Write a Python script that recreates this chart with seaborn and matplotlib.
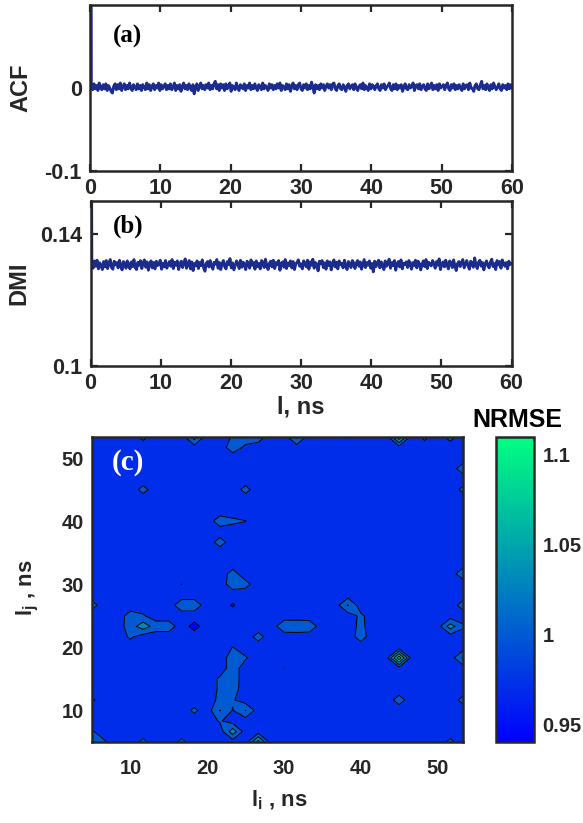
import numpy as np
import matplotlib
matplotlib.use("Agg")
import matplotlib.pyplot as plt
import seaborn as sns
from matplotlib.colors import Normalize
from matplotlib.cm import ScalarMappable

# ---------------- data ----------------
lag_max_ns = 60

# autocorrelation function: zero-lag value, then the tail in units of 1e-3
acf_zero_lag = 1.0
acf_tail_milli = [
    4, -2, 5, -1, 3, -3, 6, 0, -2, 4, -1, 5, -3, 3, 0, -4, -6, 2, 5, -2,
    4, -1, 6, -3, 2, 5, -2, 3, -1, 6, 0, -3, 4, 1, -2, 5, -1, 3, -3, 4,
    1, -2, 6, -1, 4, -3, 2, 5, -2, 3, 0, 6, -3, 4, -1, 2, 5, -2, 3, -1,
    5, -2, 1, 6, -3, 3, -1, 4, -4, 2, 6, -1, 3, -2, 5, 0, -3, 4, -7, 1,
    5, -3, 2, 6, -1, 3, -2, 4, 0, 6, -2, 3, -1, 5, 8, -1, 4, -3, 5, 0,
    4, -3, 5, -1, 2, 6, -4, 3, 1, -2, 6, 0, -3, 4, 2, -1, 5, -3, 3, 0,
    6, -2, 3, -1, 5, 0, -3, 4, 2, -2, 6, -1, 3, 1, -3, 5, 0, 4, -2, 3,
    -1, 5, 0, 6, -3, 3, 1, -2, 5, -1, 4, -4, 2, 6, -1, 3, -2, 4, 6, -1,
    -3, 4, 0, 5, -2, 3, -1, 7, 1, -6, 4, -1, 3, -2, 5, 0, 4, -3, 2, 5,
    0, 4, -2, 5, 6, -1, -3, 3, 5, -1, -2, 4, 1, -4, 3, 5, -1, 2, 4, -2,
    5, 0, -3, 2, 4, -1, 6, -2, 3, 0, -3, 5, -1, 4, 2, -2, 3, 5, -1, -3,
    4, 0, 5, -2, 1, 3, 6, -1, -3, 4, -1, 5, -2, 3, 0, 4, -4, 1, 5, -1,
    -2, 4, 0, 2, 6, -3, 3, 4, -1, 5, -2, 2, 4, -1, -3, 5, -1, 2, 6, -2,
    3, -1, 4, -3, 5, 0, 2, 4, -2, 3, 6, -1, -3, 4, 0, 5, -2, 3, -1, 4,
    0, -3, 5, -1, 3, 4, -2, 6, 0, -1, -4, 3, 5, -1, -2, 4, 8, -1, 3, -2,
    5, 0, -3, 4, -1, 6, 2, -2, 1, 5, -1, -3, 4, 0, 3, -2, 5, -1, 4, 0,
]

# DMI: zero-lag value, then the tail as offsets from the base in units of 1e-4
dmi_zero_lag = 0.25
dmi_base = 0.1297
dmi_tail_offset = [
    16, -2, 20, 4, 22, -4, 14, 6, -6, 18, 2, 21, -3, 12, 24, 0, -5, 19, 8, 15,
    -1, 22, 5, -7, 18, 13, -2, 20, 9, -4, 17, 3, 24, 0, -6, 16, 7, 21, -3, 14,
    23, 1, 17, -8, 12, 20, -1, 15, -4, 19, 6, 10, 22, -5, 13, 2, 21, -2, 8, 18,
    4, 24, -3, 16, 7, 20, -6, 11, 19, 0, 14, 26, -2, 9, 21, -4, 17, -9, 12, 5,
    20, -3, 15, 6, 23, -1, -11, 13, 18, 2, 21, 4, -5, 16, 10, 24, -2, 15, -6, 11,
    21, 3, -4, 18, 9, 27, -1, 14, -7, 6, 20, 12, -3, 22, 1, 16, 8, -6, 19, 10,
    -2, 23, 7, 15, -5, 20, 3, 12, -4, 21, 16, 0, 25, 5, -6, 13, 19, 2, 22, -3,
    15, 8, 21, -8, 12, 17, 1, 24, -3, 14, 6, 20, -1, 18, -6, 10, 16, 23, 4, 11,
    -4, 20, 13, 2, 22, -5, 17, 7, 25, -2, 15, 9, -10, 19, 11, 21, 0, 14, -5, 20,
    6, 17, -7, 12, 23, 2, 16, -4, 20, 8, 13, -1, 22, 5, -6, 18, 11, 0, 21, 14,
    -3, 13, 21, 4, 17, -5, 9, 24, 0, 15, 7, 20, -2, 12, -13, 19, 3, 14, 22, -1,
    17, 8, -6, 20, 4, 13, 25, -2, 15, 6, 21, -8, 11, 18, 2, 23, -4, 13, 9, 17,
    0, 21, 11, -5, 15, 6, 22, -1, 19, 12, -7, 9, 20, 3, 24, -3, 16, 10, 5, 21,
    13, -2, 18, 7, 26, -6, 11, 17, 2, 22, 8, -4, 20, 14, 0, 23, 5, -9, 12, 18,
    3, 15, 24, -1, 10, 21, 6, -5, 19, 12, 1, 29, 8, -3, 16, 22, 4, 15, -7, 11,
    20, 6, -1, 17, 25, 3, 12, -6, 21, 8, 18, -2, 23, 11, 4, 15, -4, 19, 9, 13,
]

# NRMSE over the (l_i, l_j) grid: a flat background plus individual cells
grid_start_ns = 5.0
grid_step_ns = 5.0 / 3.0
grid_size = 30
nrmse_background = 0.985
nrmse_cells = [
    # top row
    (4, 29, 1.0075), (8, 29, 1.045), (11, 29, 1.003), (12, 29, 1.015), (13, 29, 1.015),
    (11, 28, 1.015), (12, 28, 0.994), (16, 29, 1.0375), (20, 29, 1.0015),
    (24, 29, 1.0825), (26, 29, 1.0075), (28, 29, 1.0105),
    # right column
    (29, 26, 1.015), (29, 24, 1.0075), (29, 16, 1.018), (29, 13, 1.012),
    (28, 11, 1.045), (29, 11, 1.0045), (29, 8, 1.033), (29, 4, 1.009),
    # left column and bottom row
    (0, 13, 1.0105), (0, 4, 1.0045), (0, 0, 1.015), (1, 0, 1.003), (0, 1, 1.003),
    (4, 0, 1.0075), (7, 0, 1.0075), (13, 0, 1.075), (28, 0, 1.0075), (11, 1, 1.048),
    # interior
    (4, 24, 1.009), (12, 24, 1.009),
    (10, 21, 1.015), (11, 21, 1.006), (12, 21, 1.00075), (10, 19, 1.012),
    (7, 15, 1.0003), (11, 15, 1.015), (11, 16, 1.0105), (12, 15, 1.009),
    (7, 13, 1.018), (8, 13, 1.018), (11, 13, 0.967),
    (3, 11, 1.015), (3, 12, 1.012), (3, 10, 1.0045), (4, 11, 1.048), (4, 12, 1.003),
    (5, 11, 1.015), (6, 11, 1.015), (8, 11, 0.9595),
    (15, 11, 1.0195), (16, 11, 1.021), (17, 11, 1.018), (13, 10, 1.0105),
    (20, 13, 1.033), (21, 12, 1.006), (21, 11, 1.0075), (21, 10, 1.012),
    (11, 9, 1.00075), (11, 8, 1.015), (12, 8, 1.003), (11, 7, 1.015), (11, 6, 1.015),
    (10, 6, 1.0045), (11, 5, 1.012), (10, 5, 1.0045), (10, 4, 1.0075), (11, 4, 1.003),
    (10, 3, 1.0315), (11, 3, 0.9985), (10, 2, 1.003), (12, 3, 1.03075), (8, 3, 1.006),
    (15, 7, 1.00015), (24, 8, 1.11), (24, 4, 1.012),
]
nrmse_levels = [0.94, 0.97, 1.00, 1.03, 1.06, 1.09, 1.12]
nrmse_range = (0.94, 1.11)
cbar_ticks = [0.95, 1.0, 1.05, 1.1]
cbar_ticklabels = ["0.95", "1", "1.05", "1.1"]

# ---------------- style ----------------
sns.set_theme(style="ticks")
plt.rcParams["font.family"] = ["Liberation Sans", "DejaVu Sans"]
plt.rcParams["font.weight"] = "bold"
plt.rcParams["mathtext.fontset"] = "custom"
plt.rcParams["mathtext.rm"] = "Liberation Sans:bold"
plt.rcParams["mathtext.it"] = "Liberation Sans:bold"
plt.rcParams["mathtext.bf"] = "Liberation Sans:bold"

AX_COLOR = "#262626"
LINE_COLOR = "#1b2c8e"
W, H = 583, 823

fig = plt.figure(figsize=(W / 100, H / 100), dpi=100)


def box(l, t, r, b):
    return [l / W, 1 - b / H, (r - l) / W, (b - t) / H]


def style_axes(ax, size, xpad, ypad):
    for sp in ax.spines.values():
        sp.set_visible(True)
        sp.set_color(AX_COLOR)
        sp.set_linewidth(1.8)
    ax.tick_params(direction="in", length=5, width=1.6, color=AX_COLOR,
                   top=True, right=True, labelsize=size, labelcolor=AX_COLOR)
    ax.tick_params(axis="x", pad=xpad)
    ax.tick_params(axis="y", pad=ypad)
    for lab in ax.get_xticklabels() + ax.get_yticklabels():
        lab.set_fontweight("bold")


# ---------------- (a) ACF ----------------
ax_a = fig.add_axes(box(90, 5, 512, 171))
acf = np.array([acf_zero_lag] + [v * 1e-3 for v in acf_tail_milli])
lags = np.linspace(0, lag_max_ns, len(acf))
sns.lineplot(x=lags, y=acf, ax=ax_a, color=LINE_COLOR, linewidth=2.1,
             estimator=None, sort=False)
ax_a.set_xlim(0, lag_max_ns)
ax_a.set_ylim(-0.1, 0.1)
ax_a.set_xticks(range(0, 61, 10))
ax_a.set_yticks([-0.1, 0])
ax_a.set_yticklabels(["-0.1", "0"])
ax_a.set_xlabel("")
ax_a.set_ylabel("")
style_axes(ax_a, 15.5, 5, 6)
ax_a.text(0.09, 0.81, "(a)", transform=ax_a.transAxes, ha="center", va="center",
          fontsize=18, fontweight="bold", family="Liberation Serif", color="black")

# ---------------- (b) DMI ----------------
ax_b = fig.add_axes(box(90.5, 200.5, 511.5, 365.6))
dmi = np.array([dmi_zero_lag] + [dmi_base + v * 1e-4 for v in dmi_tail_offset])
lags_b = np.linspace(0, lag_max_ns, len(dmi))
sns.lineplot(x=lags_b, y=dmi, ax=ax_b, color=LINE_COLOR, linewidth=2.1,
             estimator=None, sort=False)
ax_b.set_xlim(0, lag_max_ns)
ax_b.set_ylim(0.1, 0.15)
ax_b.set_xticks(range(0, 61, 10))
ax_b.set_yticks([0.1, 0.14])
ax_b.set_yticklabels(["0.1", "0.14"])
ax_b.set_xlabel("")
ax_b.set_ylabel("")
style_axes(ax_b, 15.5, 5, 6)
ax_b.text(0.09, 0.843, "(b)", transform=ax_b.transAxes, ha="center", va="center",
          fontsize=18, fontweight="bold", family="Liberation Serif", color="black")

# ---------------- (c) NRMSE map ----------------
ax_c = fig.add_axes(box(92, 437, 463, 742))
axis_ns = grid_start_ns + grid_step_ns * np.arange(grid_size)
Z = np.full((grid_size, grid_size), nrmse_background)
for i, j, v in nrmse_cells:
    Z[j, i] = v
norm = Normalize(*nrmse_range)
cmap = plt.get_cmap("winter")
# each band takes the colour of its lower bounding level
band_colors = [cmap(norm(lv)) for lv in nrmse_levels[:-1]]
ax_c.contourf(axis_ns, axis_ns, Z, levels=nrmse_levels, colors=band_colors)
ax_c.contour(axis_ns, axis_ns, Z, levels=nrmse_levels, colors="black", linewidths=0.7)
ax_c.set_xlim(axis_ns[0], axis_ns[-1])
ax_c.set_ylim(axis_ns[0], axis_ns[-1])
ax_c.set_xticks(range(10, 51, 10))
ax_c.set_yticks(range(10, 51, 10))
style_axes(ax_c, 14.5, 12, 6)
ax_c.text(0.098, 0.916, "(c)", transform=ax_c.transAxes, ha="center", va="center",
          fontsize=21, fontweight="bold", family="Liberation Serif", color="white")

cax = fig.add_axes(box(496, 437, 534, 742))
cb = fig.colorbar(ScalarMappable(norm=norm, cmap=cmap), cax=cax)
cb.set_ticks(cbar_ticks)
cb.set_ticklabels(cbar_ticklabels)
cb.outline.set_edgecolor(AX_COLOR)
cb.outline.set_linewidth(1.8)
cax.tick_params(direction="in", length=4, width=1.6, color=AX_COLOR,
                labelsize=14.5, labelcolor=AX_COLOR, pad=6)
for lab in cax.get_yticklabels():
    lab.set_fontweight("bold")

# ---------------- axis titles ----------------
fig.text(21 / W, 1 - 88 / H, "ACF", rotation=90, ha="center", va="center",
         fontsize=17, fontweight="bold", color=AX_COLOR)
fig.text(19 / W, 1 - 283 / H, "DMI", rotation=90, ha="center", va="center",
         fontsize=17, fontweight="bold", color=AX_COLOR)
fig.text(301 / W, 1 - 407 / H, "l, ns", ha="center", va="center",
         fontsize=17, fontweight="bold", color=AX_COLOR)
fig.text(279 / W, 1 - 800 / H, r"l$_{\mathrm{i}}$ , ns", ha="center", va="center",
         fontsize=16, fontweight="bold", color=AX_COLOR)
fig.text(28 / W, 1 - 588 / H, r"l$_{\mathrm{j}}$ , ns", rotation=90, ha="center",
         va="center", fontsize=16, fontweight="bold", color=AX_COLOR)
fig.text(517 / W, 1 - 420 / H, "NRMSE", ha="center", va="center",
         fontsize=18, fontweight="bold", color="black")

fig.savefig("out.png", dpi=100)
